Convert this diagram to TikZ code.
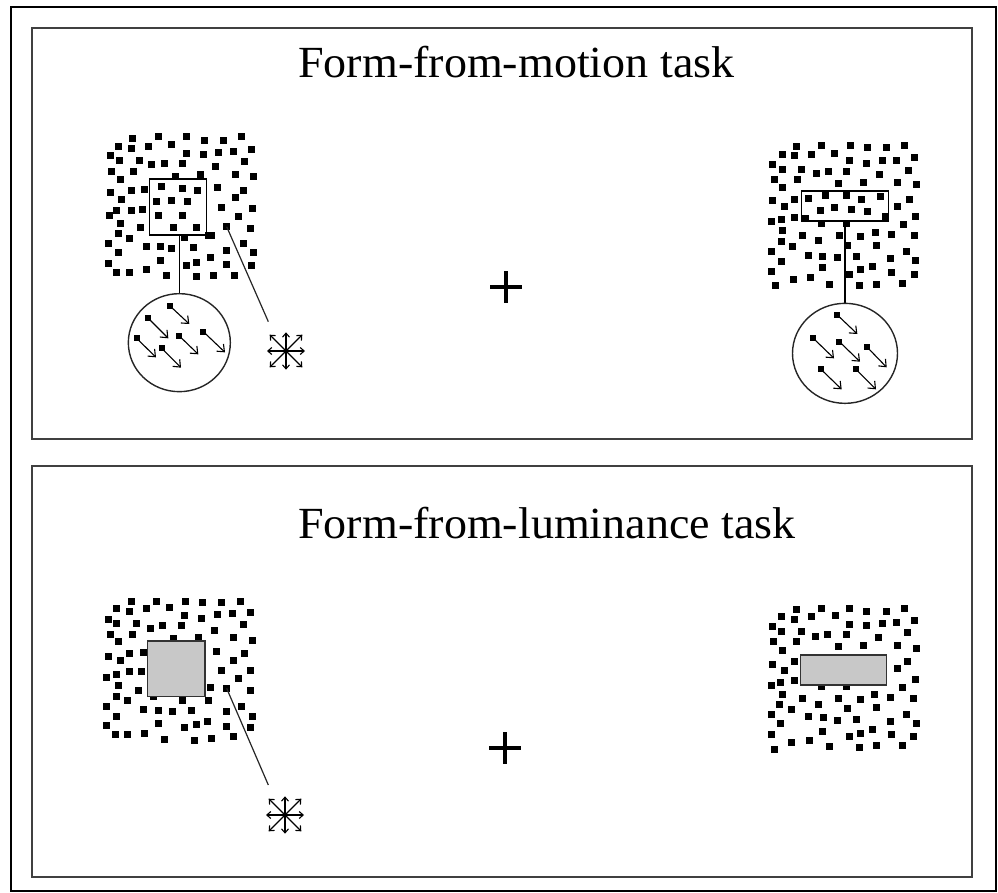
\documentclass[tikz,border=0pt]{standalone}
\usepackage{fontspec}
\setmainfont{Liberation Serif}
\usetikzlibrary{arrows.meta}
\tikzset{
  outerframe/.style={draw=black,line width=2pt},
  panel/.style={draw=black!50,line width=2.6pt},
  panelcore/.style={draw=black!75,line width=1.1pt},
  aperture/.style={draw=black,line width=1.5pt},
  grayrect/.style={draw=black!80,line width=1.4pt,fill={rgb,255:red,200;green,200;blue,200}},
  lens/.style={draw=black!85,line width=1.4pt},
  leader/.style={draw=black!85,line width=1.2pt},
  motarrow/.style={draw=black,line width=1.1pt,-{Straight Barb[length=6pt,width=10pt]}},
  stararrow/.style={draw=black,line width=1.1pt,-{Straight Barb[length=4pt,width=7pt]}},
  fixcross/.style={draw=black,line width=3.8pt},
  title/.style={anchor=base west,inner sep=0pt,font=\fontsize{44.5}{48}\selectfont}
}
\newcommand{\dotfield}[1]{\foreach \a/\b in {#1} \fill[black] (\a,\b) +(-3.5pt,-3.5pt) rectangle +(3.5pt,3.5pt);}
\newcommand{\movdot}[4]{\fill[black] (#1,#2) +(-3pt,-3pt) rectangle +(3pt,3pt); \draw[motarrow] (#1,#2) -- (#3,#4);}
\newcommand{\starburst}[2]{%
  \foreach \dx/\dy in {57/0,-57/0,0/56,0/-56,49/49,-49/49,49/-49,-49/-49}
    \draw[stararrow] (#1,#2) -- ++(\dx,\dy);}
\begin{document}
\begin{tikzpicture}[x=1pt,y=-1pt]
\useasboundingbox (0,0) rectangle (998,892);
\draw[outerframe] (11,7) rectangle (996,891);
% panels
\draw[panel] (32,28) rectangle (972,439);
\draw[panelcore] (32,28) rectangle (972,439);
\draw[panel] (32,466) rectangle (972,877);
\draw[panelcore] (32,466) rectangle (972,877);
% titles
\node[title] (t1) at (298,77) {\scalebox{1.035}[1]{Form-from-motion task}};
\node[title] (t2) at (298,538) {\scalebox{1.035}[1]{Form-from-luminance task}};
% fixation crosses
\draw[fixcross] (490,287) -- (522,287) (506,271) -- (506,303);
\draw[fixcross] (489,748) -- (521,748) (505,732) -- (505,764);

% ---------- top left ----------
\begin{scope}[xshift=90pt,yshift=-120pt,x=0.33333pt,y=-0.33333pt]
\dotfield{128/55, 205/50, 290/50, 342/60, 400/62, 455/50,
85/78, 125/85, 175/78, 243/73, 288/100, 340/103, 385/98, 430/95, 485/88,
60/107, 88/120, 148/120, 185/133, 222/130, 278/130, 375/138, 462/125,
65/153, 130/155, 90/178, 255/168, 330/162, 435/163, 490/170,
213/200, 278/205, 323/212, 200/245, 243/240, 292/243, 205/285, 278/285, 250/323, 320/323, 355/345,
60/218, 95/238, 125/212, 163/208, 383/203, 460/212, 435/232,
80/272, 58/287, 123/270, 158/268, 395/262, 487/265, 445/290,
90/310, 150/323, 410/320, 482/325,
85/340, 118/355, 170/378, 210/380, 245/385, 283/352, 310/383, 365/345, 460/370,
55/370, 85/398, 210/422, 290/437, 320/428, 360/412, 410/392, 490/398,
55/430, 78/457, 118/457, 168/448, 228/465, 318/470, 370/465, 410/432, 432/465, 485/437}
\draw[aperture] (178,177) rectangle (350,345);
\draw[aperture] (268,345) -- (268,522);
\draw[lens] (268,668) ellipse [x radius=51pt,y radius=49pt];
\movdot{240}{558}{298}{612}
\movdot{175}{595}{235}{655}
\movdot{140}{655}{198}{712}
\movdot{215}{685}{273}{743}
\movdot{268}{648}{325}{703}
\movdot{340}{635}{405}{697}
\draw[leader] (410,320) -- (535,605);
\starburst{588}{693}
\end{scope}

% ---------- top right ----------
\begin{scope}[xshift=750pt,yshift=-130pt,x=0.33333pt,y=-0.33333pt]
\dotfield{138/50, 215/47, 300/47, 352/52, 408/52, 462/47,
97/72, 133/77, 185/72, 253/70, 297/90, 348/100, 397/90, 440/90, 493/82,
68/103, 97/118, 155/118, 198/130, 235/123, 288/123, 387/133, 475/120,
73/148, 143/148, 98/173, 265/160, 340/158, 443/158, 498/163,
68/212, 103/230, 133/207, 175/205, 225/195, 290/197, 335/208, 390/200, 477/207, 443/228,
210/242, 253/233, 303/237, 352/245,
65/275, 95/268, 133/262, 165/265, 215/280, 288/280, 405/260, 460/282, 495/260,
98/300, 158/315, 205/332, 268/317, 330/320, 375/308, 423/313, 492/315,
93/333, 128/348, 292/347, 378/345, 468/363,
63/365, 95/393, 175/377, 218/378, 262/382, 320/380, 420/385, 497/392,
65/423, 130/448, 180/443, 218/413, 298/433, 330/418, 368/410, 423/427, 492/432,
75/467, 237/462, 328/467, 378/462, 457/460}
\draw[aperture] (155,183) rectangle (415,273);
\draw[aperture] (285,273) -- (285,522);
\draw[lens] (285,670) ellipse [x radius=52.5pt,y radius=50pt];
\movdot{262}{555}{322}{612}
\movdot{190}{625}{252}{685}
\movdot{268}{635}{330}{695}
\movdot{350}{650}{410}{712}
\movdot{213}{718}{275}{778}
\movdot{318}{718}{378}{778}
\end{scope}

% ---------- bottom left ----------
\begin{scope}[xshift=90pt,yshift=-570pt,x=0.33333pt,y=-0.33333pt]
\dotfield{123/95, 198/93, 285/93, 337/97, 395/97, 450/93,
80/115, 118/123, 170/115, 238/112, 283/137, 333/145, 383/133, 428/130, 480/128,
55/147, 80/160, 140/160, 182/175, 218/167, 273/167, 373/180, 460/163,
60/192, 128/192, 85/215, 250/205, 325/202, 430/202, 487/210,
55/258, 90/272, 118/250, 160/247, 378/243, 463/250, 430/270,
50/322, 78/313, 118/305, 153/303, 393/302, 482/300, 445/325,
85/347, 145/360, 360/352, 410/355, 480/360,
80/380, 113/390, 190/380, 278/390, 355/390,
50/408, 78/438, 160/418, 205/420, 248/425, 305/422, 410/425, 455/408, 488/438,
48/467, 75/492, 113/493, 163/490, 205/460, 223/508, 283/473, 318/462, 353/455,
410/470, 430/500, 480/472, 313/510, 365/505}
\draw[grayrect] (173,213) rectangle (345,380);
\draw[leader] (410,355) -- (535,645);
\starburst{585}{735}
\end{scope}

% ---------- bottom right ----------
\begin{scope}[xshift=750pt,yshift=-580pt,x=0.33333pt,y=-0.33333pt]
\dotfield{138/88, 213/85, 298/85, 350/93, 408/93, 462/85,
95/110, 133/117, 185/110, 255/105, 297/132, 348/137, 397/130, 438/128, 493/120,
68/140, 95/155, 155/155, 195/168, 232/162, 288/162, 385/172, 472/158,
70/185, 140/185, 98/210, 265/200, 340/197, 443/197, 498/205,
68/253, 102/270, 133/245, 443/265, 472/245,
63/317, 90/307, 133/302, 213/320, 288/318, 458/322, 495/297,
98/342, 158/355, 205/373, 265/355, 330/357, 372/343, 422/352, 490/355,
88/373, 125/387, 293/385, 378/382, 468/403,
63/403, 90/430, 175/410, 220/412, 262/420, 318/417, 420/423, 498/430,
65/462, 125/488, 178/480, 218/455, 298/468, 330/460, 368/447, 423/463, 490/468,
72/507, 237/498, 328/502, 378/497, 457/497}
\draw[grayrect] (152,225) rectangle (410,315);
\end{scope}
\end{tikzpicture}
\end{document}
